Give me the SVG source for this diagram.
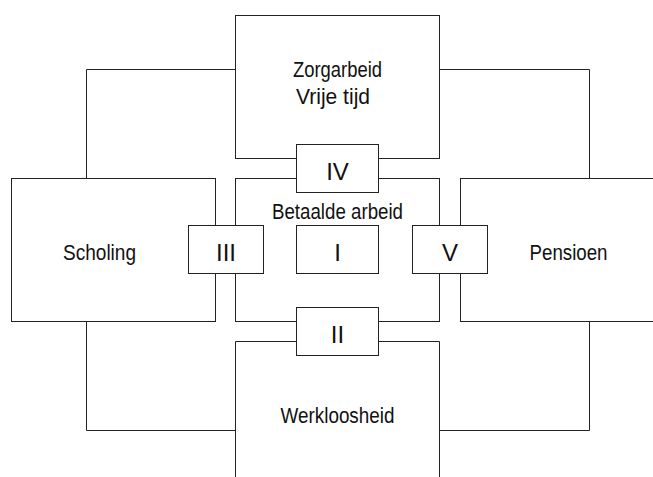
<svg xmlns="http://www.w3.org/2000/svg" width="653" height="477" viewBox="0 0 653 477">
<style>
.box{fill:#fff;stroke:#222;stroke-width:1}
.con{fill:none;stroke:#222;stroke-width:1}
.lbl{font-family:"Liberation Sans",Arial,sans-serif;font-size:22px;fill:#111;text-anchor:middle}
.num{font-family:"Liberation Sans",Arial,sans-serif;font-size:24px;fill:#111;text-anchor:middle}
</style>
<rect width="653" height="477" fill="#fff"/>
<g id="connectors">
<path class="con" d="M235.5 69.5H86.5V178.5"/>
<path class="con" d="M439.5 69.5H589.5V178.5"/>
<path class="con" d="M86.5 321.5V430.5H235.5"/>
<path class="con" d="M589.5 321.5V430.5H439.5"/>
</g>
<g id="zorgarbeid">
<rect class="box" x="235.5" y="15.5" width="204" height="143"/>
<text class="lbl" x="337.5" y="77" textLength="89" lengthAdjust="spacingAndGlyphs">Zorgarbeid</text>
<text class="lbl" x="333" y="103.5" textLength="74" lengthAdjust="spacingAndGlyphs">Vrije tijd</text>
</g>
<g id="betaalde-arbeid">
<rect class="box" x="235.5" y="178.5" width="204" height="143"/>
<text class="lbl" x="337.5" y="218.5" textLength="131" lengthAdjust="spacingAndGlyphs">Betaalde arbeid</text>
</g>
<g id="scholing">
<rect class="box" x="11.5" y="178.5" width="204" height="143"/>
<text class="lbl" x="99.5" y="259.5" textLength="73" lengthAdjust="spacingAndGlyphs">Scholing</text>
</g>
<g id="pensioen">
<rect class="box" x="460.5" y="178.5" width="204" height="143"/>
<text class="lbl" x="568.5" y="259.5" textLength="78" lengthAdjust="spacingAndGlyphs">Pensioen</text>
</g>
<g id="werkloosheid">
<path class="box" d="M235.5 490V341.5H439.5V490"/>
<text class="lbl" x="337.5" y="422.7" textLength="114" lengthAdjust="spacingAndGlyphs">Werkloosheid</text>
</g>
<g id="iv">
<rect class="box" x="296.5" y="144.5" width="82" height="48"/>
<text class="num" x="337.5" y="179.5">IV</text>
</g>
<g id="iii">
<rect class="box" x="188.5" y="225.5" width="75" height="48"/>
<text class="num" x="226" y="260.7">III</text>
</g>
<g id="i">
<rect class="box" x="296.5" y="225.5" width="82" height="48"/>
<text class="num" x="337.5" y="260.7">I</text>
</g>
<g id="v">
<rect class="box" x="412.5" y="225.5" width="75" height="48"/>
<text class="num" x="450" y="260.7">V</text>
</g>
<g id="ii">
<rect class="box" x="296.5" y="307.5" width="82" height="48"/>
<text class="num" x="337.5" y="342.7">II</text>
</g>
</svg>
